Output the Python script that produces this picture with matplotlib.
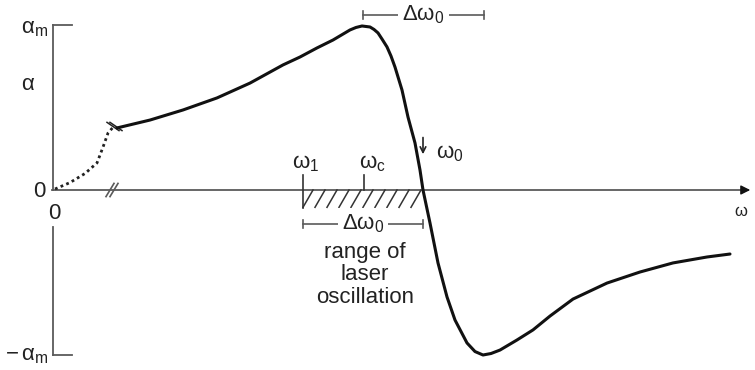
import matplotlib.pyplot as plt

plt.rcParams['font.family'] = ['Liberation Sans', 'DejaVu Sans']
plt.rcParams['mathtext.fontset'] = 'custom'
plt.rcParams['mathtext.rm'] = 'Liberation Sans'
plt.rcParams['mathtext.it'] = 'Liberation Sans'
plt.rcParams['mathtext.default'] = 'regular'

# dotted low-frequency part (before the axis break)
omega_dotted = [2, 17, 32, 44, 50, 55, 60]
alpha_dotted = [0.006, 0.045, 0.10, 0.164, 0.26, 0.345, 0.38]

# solid dispersion curve alpha(omega)
omega_curve = [64, 97, 130, 164, 197, 230, 247, 264, 280, 297, 303, 309, 317,
               321, 325, 329, 334, 338, 342, 349, 355, 362, 367, 370, 377, 385,
               394, 402, 414, 422, 430, 438, 447, 464, 480, 497, 520, 554, 587,
               620, 654, 677]
alpha_curve = [0.376, 0.424, 0.485, 0.558, 0.648, 0.758, 0.806, 0.861, 0.909,
               0.970, 0.985, 0.994, 0.988, 0.973, 0.952, 0.915, 0.867, 0.812,
               0.745, 0.606, 0.442, 0.285, 0.121, 0.0, -0.2, -0.442, -0.648,
               -0.788, -0.927, -0.979, -1.0, -0.991, -0.970, -0.909, -0.848,
               -0.764, -0.661, -0.564, -0.497, -0.442, -0.406, -0.388]

omega_1 = 250
omega_c = 311
omega_0 = 370
delta_top = (310, 431)

fig = plt.figure(figsize=(7.55, 3.7), dpi=100)
ax = fig.add_axes([0, 0, 1, 1])
ax.set_xlim(-53, 702)
ax.set_ylim(-180 / 165, 190 / 165)
ax.axis('off')

axc = '#5a5a5a'
tc = '#222222'

# axes
ax.plot([-1, 692], [0, 0], color=axc, lw=1.3)
ax.annotate('', xy=(700, 0), xytext=(688, 0),
            arrowprops=dict(arrowstyle='-|>', color='#111111', lw=1, mutation_scale=14))
ax.plot([0, 0], [0, 1], color=axc, lw=1.3)
ax.plot([0, 0], [-0.224, -1], color=axc, lw=1.3)
ax.plot([0, 19], [1, 1], color=axc, lw=1.3)
ax.plot([0, 19], [-1, -1], color=axc, lw=1.3)

# break marks
for dx in (0, 4):
    ax.plot([53 + dx, 61 + dx], [-0.04, 0.04], color=axc, lw=1.2)
for dx in (0, 3):
    ax.plot([54 + dx, 66 + dx], [0.41, 0.36], color='#222', lw=1.1)

# curve
ax.plot(omega_dotted, alpha_dotted, color='#222', lw=2, ls=(0, (1, 1.2)))
ax.plot(omega_curve, alpha_curve, color='#111', lw=2.2, solid_joinstyle='round',
        solid_capstyle='round')

# hatched range of laser oscillation
for x in range(omega_1, omega_0 - 8, 12):
    ax.plot([x, x + 10], [-0.105, 0], color='#333', lw=1.1)

# ticks omega_1, omega_c
ax.plot([omega_1, omega_1], [0.09, -0.11], color='#333', lw=1.2)
ax.plot([omega_c, omega_c], [0.09, 0], color='#333', lw=1.2)

fs = 16
ax.text(-5, 0.98, r'$\alpha_m$', ha='right', va='center', fontsize=fs, color=tc)
ax.text(-25, 0.64, r'$\alpha$', ha='center', va='center', fontsize=fs, color=tc)
ax.text(-8, -0.01, '0', ha='right', va='center', fontsize=fs, color=tc)
ax.text(1, -0.145, '0', ha='center', va='center', fontsize=fs, color=tc)
ax.text(-5, -1.0, r'$-\,\alpha_m$', ha='right', va='center', fontsize=fs, color=tc)
ax.text(688, -0.13, r'$\omega$', ha='center', va='center', fontsize=12, color=tc)
ax.text(omega_1 + 3, 0.16, r'$\omega_1$', ha='center', va='center', fontsize=fs, color=tc)
ax.text(omega_c + 8, 0.16, r'$\omega_c$', ha='center', va='center', fontsize=fs, color=tc)

# omega_0 arrow
ax.annotate('', xy=(omega_0, 0.2), xytext=(omega_0, 0.335),
            arrowprops=dict(arrowstyle='->', color='#222', lw=1.2))
ax.text(omega_0 + 27, 0.22, r'$\omega_0$', ha='center', va='center', fontsize=fs, color=tc)


def bracket(x0, x1, y):
    ax.plot([x0, x1], [y, y], color=axc, lw=1.2)
    ax.plot([x0, x0], [y - 0.025, y + 0.025], color=axc, lw=1.2)
    ax.plot([x1, x1], [y - 0.025, y + 0.025], color=axc, lw=1.2)
    ax.text((x0 + x1) / 2, y, r'$\Delta\omega_0$', ha='center', va='center', fontsize=fs,
            color=tc, bbox=dict(facecolor='white', edgecolor='none', pad=3))


bracket(omega_1, omega_0, -0.205)
bracket(delta_top[0], delta_top[1], 1.06)

ax.text(312, -0.515, 'range of\nlaser\noscillation', ha='center', va='center',
        fontsize=fs, color=tc, linespacing=1.1)

fig.savefig('out.png', dpi=100)
